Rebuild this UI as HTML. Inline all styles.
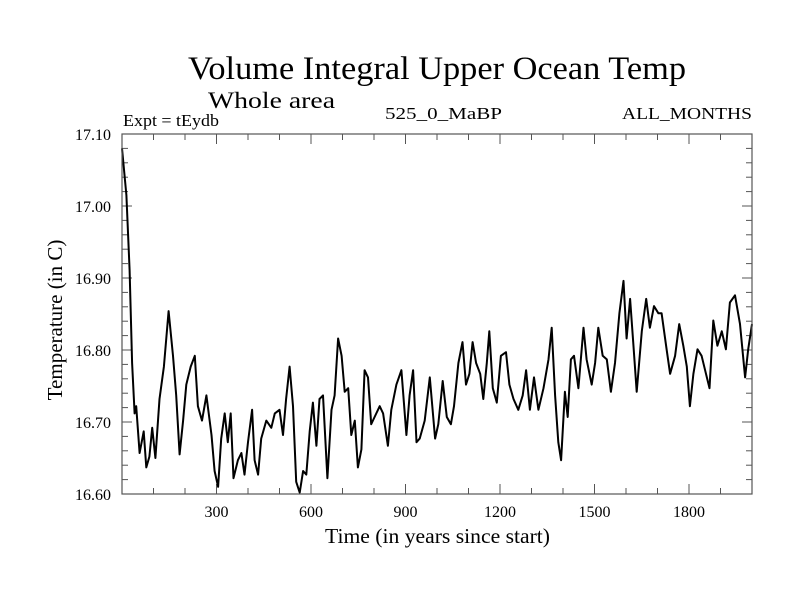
<!DOCTYPE html>
<html><head><meta charset="utf-8"><style>
body{margin:0;background:#fff}
svg{display:block;font-family:"Liberation Serif",serif}
</style></head><body>
<svg id="chart" width="800" height="600" xmlns="http://www.w3.org/2000/svg">
<text x="188" y="79" font-size="33" textLength="498" lengthAdjust="spacingAndGlyphs">Volume Integral Upper Ocean Temp</text>
<text x="208" y="108" font-size="23" textLength="127" lengthAdjust="spacingAndGlyphs">Whole area</text>
<text x="123" y="126" font-size="17" textLength="96" lengthAdjust="spacingAndGlyphs">Expt = tEydb</text>
<text x="385" y="119" font-size="17" textLength="117" lengthAdjust="spacingAndGlyphs">525_0_MaBP</text>
<text x="622" y="119" font-size="17" textLength="130" lengthAdjust="spacingAndGlyphs">ALL_MONTHS</text>
<text transform="translate(62,320) rotate(-90)" font-size="21" text-anchor="middle">Temperature (in C)</text>
<text x="325" y="543" font-size="21" textLength="225" lengthAdjust="spacingAndGlyphs">Time (in years since start)</text>
<g id="axes"></g>
<g id="series"></g>
<rect x="122" y="134" width="630" height="360" fill="none" stroke="#555" stroke-width="1.2"/>
</svg>
<script>
const years=[0,14,24,32,40,45,56,69,77,87,96,106,119,133,148,162,172,183,194,204,218,231,241,254,268,284,294,305,315,326,336,345,354,368,379,389,400,413,421,432,442,458,474,485,500,511,521,532,543,553,564,575,585,596,606,617,627,638,652,665,675,686,697,707,718,728,739,749,760,770,781,791,802,818,829,844,855,871,887,903,913,924,935,945,961,977,994,1004,1018,1031,1044,1054,1068,1081,1092,1103,1113,1124,1137,1147,1158,1166,1177,1190,1203,1219,1230,1243,1258,1272,1283,1295,1308,1322,1338,1354,1364,1375,1385,1394,1406,1415,1425,1435,1449,1465,1475,1491,1502,1512,1526,1539,1552,1565,1579,1592,1602,1613,1623,1634,1650,1664,1676,1689,1703,1713,1729,1740,1756,1769,1782,1793,1803,1814,1827,1840,1851,1865,1877,1890,1904,1917,1930,1946,1962,1978,1988,2000];
const temps=[17.08,17.015,16.911,16.782,16.712,16.722,16.657,16.687,16.637,16.652,16.692,16.650,16.732,16.777,16.854,16.792,16.737,16.655,16.702,16.752,16.777,16.792,16.722,16.702,16.737,16.682,16.632,16.610,16.677,16.712,16.672,16.712,16.622,16.647,16.657,16.627,16.672,16.717,16.647,16.627,16.677,16.702,16.692,16.712,16.717,16.682,16.732,16.777,16.722,16.617,16.602,16.632,16.627,16.687,16.727,16.667,16.732,16.737,16.622,16.717,16.737,16.816,16.792,16.742,16.747,16.682,16.702,16.637,16.662,16.772,16.762,16.697,16.707,16.722,16.712,16.667,16.717,16.752,16.772,16.682,16.737,16.772,16.672,16.677,16.702,16.762,16.677,16.697,16.757,16.707,16.697,16.722,16.782,16.811,16.752,16.767,16.811,16.782,16.767,16.732,16.782,16.826,16.747,16.727,16.792,16.797,16.752,16.732,16.717,16.737,16.772,16.717,16.762,16.717,16.747,16.787,16.831,16.737,16.672,16.647,16.742,16.707,16.787,16.792,16.747,16.831,16.787,16.752,16.782,16.831,16.792,16.787,16.742,16.782,16.851,16.896,16.816,16.871,16.811,16.742,16.826,16.871,16.831,16.861,16.851,16.851,16.801,16.767,16.792,16.836,16.806,16.777,16.722,16.767,16.801,16.792,16.772,16.747,16.841,16.806,16.826,16.801,16.866,16.876,16.836,16.762,16.801,16.836];
const yTicks=[16.60,16.70,16.80,16.90,17.00,17.10];
const xTicks=[300,600,900,1200,1500,1800];
const X0=122,X1=752,Y0=494,Y1=134;
const xMin=0,xMax=2000,yMin=16.6,yMax=17.1;
function sx(v){return X0+(v-xMin)/(xMax-xMin)*(X1-X0);}
function sy(v){return Y0-(v-yMin)/(yMax-yMin)*(Y0-Y1);}
const NS="http://www.w3.org/2000/svg";
const axes=document.getElementById('axes');
function line(x1,y1,x2,y2,name){const l=document.createElementNS(NS,'line');
l.setAttribute('x1',x1);l.setAttribute('y1',y1);l.setAttribute('x2',x2);l.setAttribute('y2',y2);
l.setAttribute('stroke','#555');l.setAttribute('stroke-width','1');


axes.appendChild(l);}
function text(x,y,s,anchor,name){const t=document.createElementNS(NS,'text');
t.setAttribute('x',x);t.setAttribute('y',y);t.setAttribute('font-size','16');t.setAttribute('text-anchor',anchor);t.textContent=s;


axes.appendChild(t);}
for(let v=0;v<=2000;v+=100){const x=sx(v);const major=v%300===0;const L=major?10:6;
line(x,Y0,x,Y0-L,'x-tick');line(x,Y1,x,Y1+L,'x-tick-top');}
for(let i=0;i<=25;i++){const v=16.6+i*0.02;const y=sy(v);const L=(i%5===0)?10:6;
line(X0,y,X0+L,y,'y-tick');line(X1,y,X1-L,y,'y-tick-right');}
yTicks.forEach(v=>text(X0-11,sy(v)+6,v.toFixed(2),'end','y-tick-label'));
xTicks.forEach(v=>text(sx(v),Y0+23,String(v),'middle','x-tick-label'));
const p=document.createElementNS(NS,'path');
p.setAttribute('d',years.map((y,i)=>(i?'L':'M')+sx(y).toFixed(1)+','+sy(temps[i]).toFixed(1)).join(''));
p.setAttribute('fill','none');p.setAttribute('stroke','#000');p.setAttribute('stroke-width','2');p.setAttribute('stroke-linejoin','round');


document.getElementById('series').appendChild(p);
</script>
</body></html>
